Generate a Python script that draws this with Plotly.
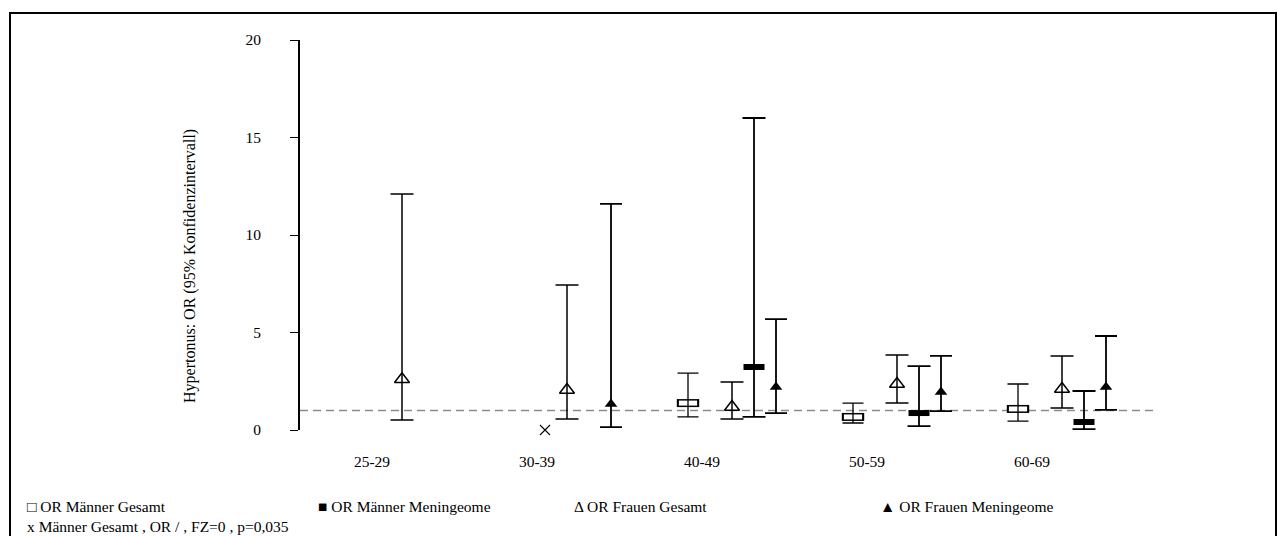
import plotly.graph_objects as go

# Age groups (x categories)
age_groups = ["25-29", "30-39", "40-49", "50-59", "60-69"]

# Odds ratios with 95% confidence limits; None = no estimate for that group
maenner_gesamt_or = [None, None, 1.38, 0.67, 1.08]
maenner_gesamt_lo = [None, None, 0.67, 0.36, 0.46]
maenner_gesamt_hi = [None, None, 2.92, 1.38, 2.36]

maenner_mening_or = [None, None, 3.23, 0.87, 0.41]
maenner_mening_lo = [None, None, 0.67, 0.20, 0.05]
maenner_mening_hi = [None, None, 16.0, 3.28, 2.00]

frauen_gesamt_or = [2.60, 2.05, 1.18, 2.36, 2.10]
frauen_gesamt_lo = [0.51, 0.56, 0.56, 1.38, 1.13]
frauen_gesamt_hi = [12.1, 7.44, 2.46, 3.85, 3.80]

frauen_mening_or = [None, 1.33, 2.20, 1.95, 2.20]
frauen_mening_lo = [None, 0.15, 0.87, 0.97, 1.03]
frauen_mening_hi = [None, 11.6, 5.69, 3.80, 4.82]

# Männer Gesamt 30-39: FZ=0, no OR -> marked with x at 0
maenner_gesamt_fz0 = [None, 0, None, None, None]

reference_or = 1
y_ticks = [0, 5, 10, 15, 20]

legend_row1 = ["\u25a1 OR Männer Gesamt", "\u25a0 OR Männer Meningeome",
               "\u0394 OR Frauen Gesamt", "\u25b2 OR Frauen Meningeome"]
legend_row2 = "x Männer Gesamt , OR / , FZ=0 , p=0,035"
y_title = "Hypertonus: OR (95% Konfidenzintervall)"

# ---- layout geometry (pixels) ----
W, H = 1277, 536
PL, PR, PT, PB = 300, 1160, 40, 430      # plot area edges
GROUP_PX = 165                           # distance between age groups
SLOT = 22 / GROUP_PX                     # offset between series inside a group
X0 = -58 / GROUP_PX
X1 = X0 + (PR - PL) / GROUP_PX
FONT = "Liberation Serif"


def px_x(px):
    return (px - PL) / (PR - PL)


def px_y(py):
    return (PB - py) / (PB - PT)


def series(values, lo, hi, slot):
    xs, ys, up, dn = [], [], [], []
    for g, v in enumerate(values):
        if v is None:
            continue
        xs.append(g + slot * SLOT)
        ys.append(v)
        if lo is not None:
            up.append(hi[g] - v)
            dn.append(v - lo[g])
    return xs, ys, up, dn


fig = go.Figure()


def add_ci(values, lo, hi, slot, thick, capw, marker):
    xs, ys, up, dn = series(values, lo, hi, slot)
    fig.add_trace(go.Scatter(
        x=xs, y=ys, mode="markers", cliponaxis=False, showlegend=False,
        error_y=dict(type="data", symmetric=False, array=up, arrayminus=dn,
                     color="black", thickness=thick, width=capw),
        marker=marker,
    ))
    return xs, ys


# Männer Gesamt: open rectangle
xs, ys = add_ci(maenner_gesamt_or, maenner_gesamt_lo, maenner_gesamt_hi, 0, 1.3, 10.5,
                dict(symbol="line-ew", size=16, color="black",
                     line=dict(width=8, color="black")))
fig.add_trace(go.Scatter(x=xs, y=ys, mode="markers", cliponaxis=False, showlegend=False,
                         marker=dict(symbol="line-ew", size=13, color="white",
                                     line=dict(width=5, color="white"))))
fig.add_trace(go.Scatter(x=xs, y=ys, mode="markers", cliponaxis=False, showlegend=False,
                         marker=dict(symbol="line-ns", size=5, color="black",
                                     line=dict(width=1.3, color="black"))))

# Männer Gesamt FZ=0 marker
xs, ys, _, _ = series(maenner_gesamt_fz0, None, None, 1)
fig.add_trace(go.Scatter(x=xs, y=ys, mode="markers", cliponaxis=False, showlegend=False,
                         marker=dict(symbol="x-thin", size=10, color="black",
                                     line=dict(width=1.1, color="black"))))

# Frauen Gesamt: open triangle
add_ci(frauen_gesamt_or, frauen_gesamt_lo, frauen_gesamt_hi, 2, 1.5, 11.5,
       dict(symbol="triangle-up-open", size=13, color="black",
            line=dict(width=1.5, color="black")))

# Männer Meningeome: filled rectangle
add_ci(maenner_mening_or, maenner_mening_lo, maenner_mening_hi, 3, 1.8, 11.5,
       dict(symbol="line-ew", size=15, color="black",
            line=dict(width=6, color="black")))

# Frauen Meningeome: filled triangle
add_ci(frauen_mening_or, frauen_mening_lo, frauen_mening_hi, 4, 1.8, 11,
       dict(symbol="triangle-up", size=11, color="black",
            line=dict(width=0, color="black")))

shapes = [
    # reference line OR = 1
    dict(type="line", xref="x", yref="y", x0=X0, x1=X0 + (1157 - PL) / GROUP_PX,
         y0=reference_or, y1=reference_or,
         line=dict(color="#8c8c8c", width=1.5, dash="8px,5px"), layer="below"),
    # outer frame
    dict(type="rect", xref="paper", yref="paper",
         x0=px_x(10), x1=px_x(1276), y0=px_y(548), y1=px_y(13),
         line=dict(color="black", width=2), fillcolor="rgba(0,0,0,0)"),
]

annotations = [
    dict(text=y_title, xref="paper", yref="paper", x=px_x(190), y=px_y(266),
         textangle=-90, showarrow=False, xanchor="center", yanchor="middle",
         font=dict(family=FONT, size=16, color="black")),
]
legend_x = [25, 316, 572, 878]
for txt, lx in zip(legend_row1, legend_x):
    annotations.append(dict(text=txt, xref="paper", yref="paper", x=px_x(lx), y=px_y(506),
                            showarrow=False, xanchor="left", yanchor="middle",
                            font=dict(family=FONT, size=15.5, color="black")))
annotations.append(dict(text=legend_row2, xref="paper", yref="paper", x=px_x(25), y=px_y(526),
                        showarrow=False, xanchor="left", yanchor="middle",
                        font=dict(family=FONT, size=15.5, color="black")))

fig.update_layout(
    width=W, height=H,
    margin=dict(l=PL, r=W - PR, t=PT, b=H - PB, pad=0),
    paper_bgcolor="white", plot_bgcolor="white",
    showlegend=False,
    xaxis=dict(range=[X0, X1], showgrid=False, zeroline=False, showline=False,
               ticks="", tickvals=[g + 14 / GROUP_PX for g in range(len(age_groups))],
               ticktext=age_groups, ticklabelstandoff=20,
               tickfont=dict(family=FONT, size=15.5, color="black")),
    yaxis=dict(range=[0, 20], tickvals=y_ticks, showgrid=False, zeroline=False,
               showline=True, linecolor="black", linewidth=2,
               ticks="outside", ticklen=8, tickwidth=1, tickcolor="black",
               ticklabelstandoff=26,
               tickfont=dict(family=FONT, size=15.5, color="black")),
    shapes=shapes,
    annotations=annotations,
)

fig.write_html("out.html")
